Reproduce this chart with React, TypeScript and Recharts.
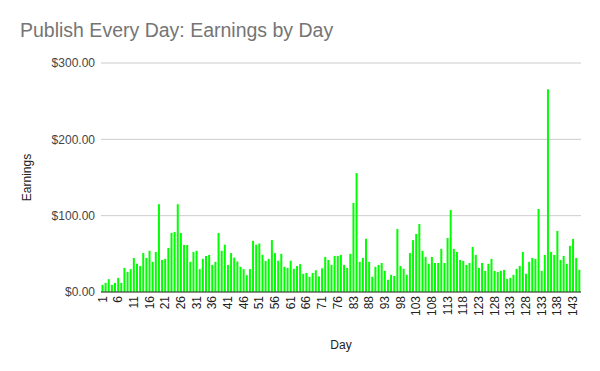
import { Bar, BarChart, CartesianGrid, XAxis, YAxis } from "recharts";

// day labels as they appear on the sheet (some days missing, some repeated)
const days = [
  1, 2, 3, 4, 5, 6, 7, 8, 9, 10, 11, 12, 13, 14, 15, 16, 17, 18, 19, 20,
  21, 22, 23, 24, 25, 26, 27, 28, 29, 30, 31, 32, 33, 34, 35, 36, 37, 38, 39, 40,
  41, 42, 43, 44, 45, 46, 47, 48, 49, 50, 51, 52, 53, 54, 55, 56, 57, 58, 59, 60,
  61, 62, 63, 64, 65, 66, 67, 68, 69, 70, 71, 72, 73, 74, 75, 76, 77, 78, 81, 82,
  83, 84, 85, 86, 87, 88, 89, 90, 91, 92, 93, 94, 95, 96, 97, 98, 99, 100, 101, 102,
  103, 104, 105, 106, 107, 108, 109, 110, 111, 112, 113, 114, 115, 116, 117, 118, 119, 120, 121, 122,
  123, 124, 125, 126, 127, 128, 129, 130, 131, 132, 133, 124, 125, 126, 127, 128, 129, 130, 131, 132,
  133, 134, 135, 136, 137, 138, 139, 140, 141, 142, 143, 144, 145,
];

const earnings = [
  9.4, 12, 16.8, 9.4, 12, 18.5, 12, 31.6, 26.4, 30,
  44.6, 37, 34, 51, 44.6, 54, 39.5, 52.5, 115, 42,
  43.4, 57.8, 77.4, 78.7, 115, 77.4, 61.7, 61.7, 39.5, 52.5,
  54, 30, 43.4, 47.3, 48.6, 35.5, 39.5, 77.4, 54, 62,
  35.5, 51, 45, 40, 33, 30, 22, 30, 67, 62,
  63.5, 48.6, 40.8, 43.4, 68, 51, 41, 50, 33, 31.6,
  41, 30.4, 34, 36.5, 23.8, 25, 19.9, 25, 28.5, 20.5,
  31, 46, 42, 35.5, 47.3, 47.3, 48.6, 35.5, 31.6, 50,
  116.6, 155.8, 39.5, 44.7, 69.6, 39.5, 19.9, 33, 35.5, 38,
  27.7, 16, 22.5, 21, 82.6, 34, 30.4, 22.5, 51, 68,
  76, 89, 53.8, 46, 37, 46, 38, 38, 56.5, 38,
  70.8, 107.4, 56.5, 52.5, 42, 40.8, 35.5, 38, 59, 48.6,
  31.6, 38, 27.7, 36.9, 43.4, 27.7, 26.4, 27.7, 29, 17.2,
  18.5, 22.5, 30.4, 34.2, 52.5, 23.8, 39.5, 44.7, 43.4, 108.8,
  27.7, 48.6, 265.6, 52.5, 48.6, 80, 42, 47.3, 36.9, 60.4,
  69.5, 44.7, 29,
];

const yTicks = [0, 100, 200, 300];

const data = earnings.map((v, i) => ({ day: String(days[i]), earnings: v }));

const FONT = "'Liberation Sans', Arial, sans-serif";

function DayTick({ x, y, payload }: any) {
  return (
    <text
      x={x}
      y={y}
      transform={`rotate(-90 ${x} ${y})`}
      textAnchor="end"
      dominantBaseline="central"
      fontSize={12}
      fill="#222"
      fontFamily={FONT}
    >
      {payload.value}
    </text>
  );
}

export default function App() {
  return (
    <div
      style={{
        position: "absolute",
        left: 0,
        top: 0,
        width: 600,
        height: 371,
        background: "#fff",
        fontFamily: FONT,
      }}
    >
      <div
        style={{
          position: "absolute",
          left: 20,
          top: 20.5,
          fontSize: 19.5,
          lineHeight: 1,
          color: "#757575",
          whiteSpace: "nowrap",
        }}
      >
        Publish Every Day: Earnings by Day
      </div>
      <BarChart
        width={600}
        height={371}
        data={data}
        margin={{ top: 63, right: 19, bottom: 0, left: 0 }}
        barCategoryGap="15%"
      >
        <CartesianGrid vertical={false} stroke="#cccccc" />
        <XAxis
          dataKey="day"
          interval={4}
          height={79}
          tickLine={false}
          tickSize={0}
          tickMargin={4}
          tick={<DayTick />}
          axisLine={{ stroke: "#333" }}
          label={{
            content: ({ viewBox }: any) => (
              <text
                x={viewBox.x + viewBox.width / 2}
                y={viewBox.y + 53}
                textAnchor="middle"
                dominantBaseline="central"
                fontSize={12}
                fill="#222"
                fontFamily={FONT}
              >
                Day
              </text>
            ),
          }}
        />
        <YAxis
          width={101}
          domain={[0, 300]}
          ticks={yTicks}
          axisLine={false}
          tickLine={false}
          tickSize={0}
          tickMargin={6}
          tick={{ fontSize: 12, fill: "#444" }}
          tickFormatter={(v: number) => `$${v.toFixed(2)}`}
          label={{
            content: ({ viewBox }: any) => {
              const cx = 27;
              const cy = viewBox.y + viewBox.height / 2;
              return (
                <text
                  x={cx}
                  y={cy}
                  transform={`rotate(-90 ${cx} ${cy})`}
                  textAnchor="middle"
                  dominantBaseline="central"
                  fontSize={12}
                  fill="#222"
                  fontFamily={FONT}
                >
                  Earnings
                </text>
              );
            },
          }}
        />
        <Bar dataKey="earnings" fill="#00ff00" isAnimationActive={false} />
      </BarChart>
    </div>
  );
}
